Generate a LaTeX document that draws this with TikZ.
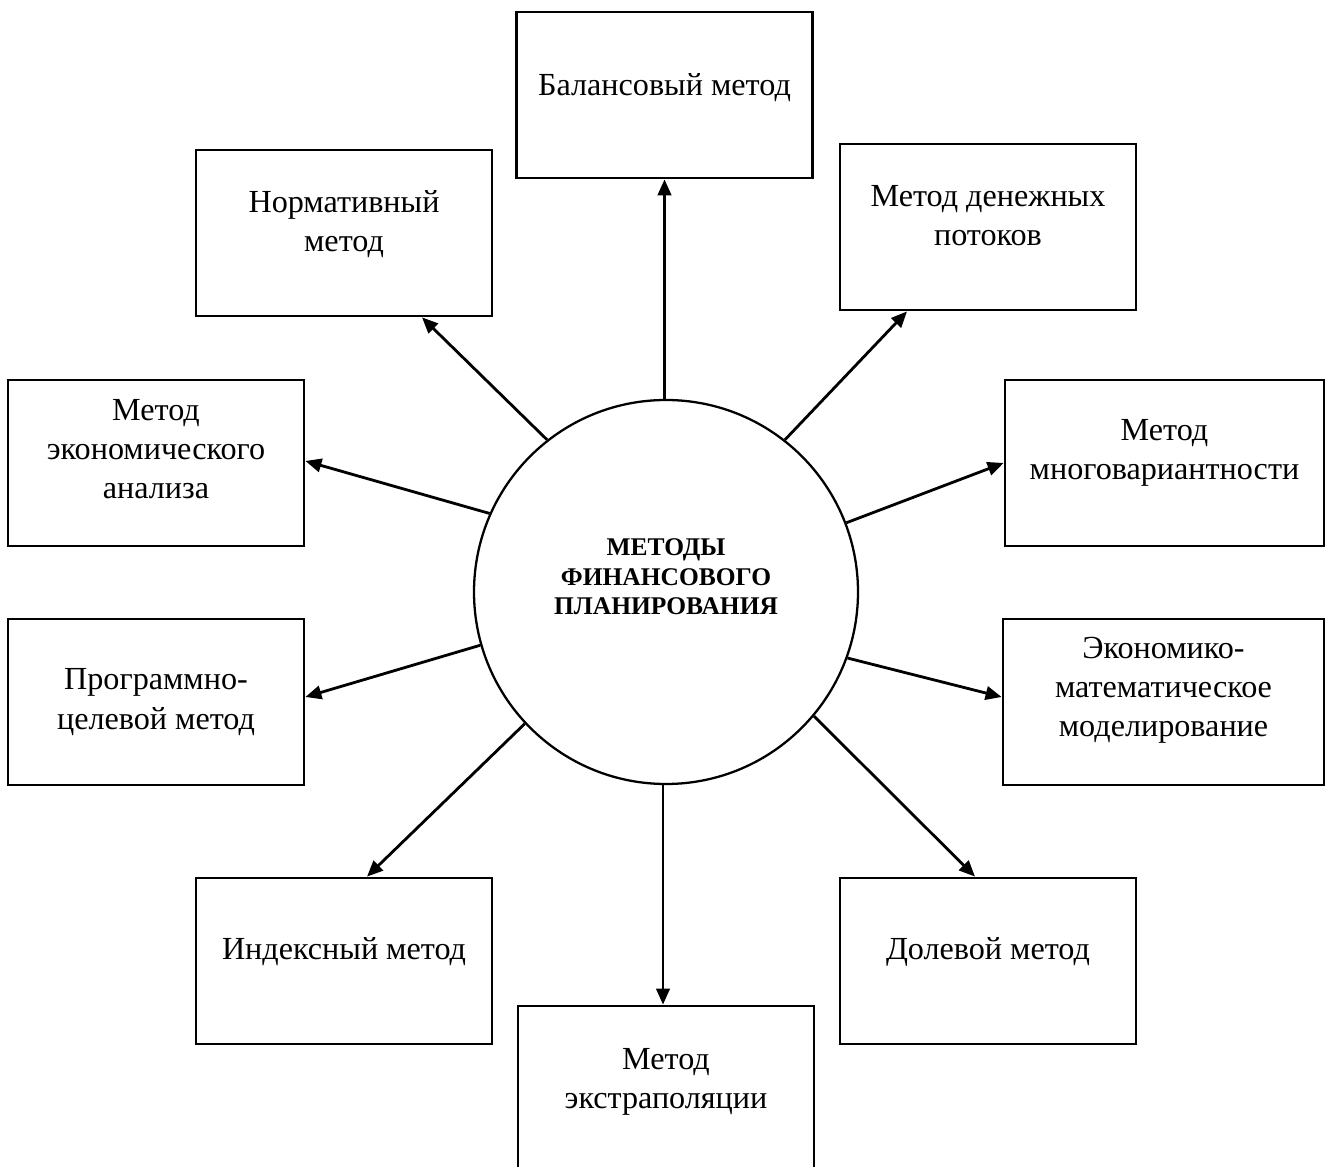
\documentclass[tikz,border=0pt]{standalone}
\usepackage{fontspec}
\setmainfont{Liberation Serif}
\usepackage{tikz}
\usetikzlibrary{arrows.meta,calc}

\tikzset{
    methbox/.style={draw, line width=1.6pt, minimum width=5.92cm, minimum height=3.32cm, inner sep=0pt},
    methtext/.style={align=center, font=\fontsize{18.3}{22.3}\selectfont, inner sep=0pt},
    core/.style={draw, circle, line width=1.3pt, minimum size=7.68cm, inner sep=0pt},
    spoke/.style={line width=1.6pt, -{Triangle[length=0.32cm, width=0.27cm]}},
}

\begin{document}
\begin{tikzpicture}
    %% Background
    \useasboundingbox (0,0) rectangle (26.62,23.32);

    %% Centre
    \node[core] (c) at (13.32,11.48) {};
    \node[align=center, font=\fontsize{14.5}{16.8}\selectfont\bfseries, inner sep=0pt]
        (c-t) at ([yshift=0.3cm]c.center) {МЕТОДЫ\\ФИНАНСОВОГО\\ПЛАНИРОВАНИЯ};

    %% Boxes
    \node[methbox] (bal) at (13.29,21.42) {};
    \node[methbox] (norm) at (6.88,18.66) {};
    \node[methbox] (den) at (19.76,18.78) {};
    \node[methbox] (anal) at (3.12,14.06) {};
    \node[methbox, minimum width=6.38cm] (mnog) at (23.29,14.06) {};
    \node[methbox] (prog) at (3.12,9.28) {};
    \node[methbox, minimum width=6.42cm] (ekmat) at (23.27,9.28) {};
    \node[methbox] (ind) at (6.88,4.10) {};
    \node[methbox] (dol) at (19.76,4.10) {};
    \node[methbox] (ext) at (13.32,1.54) {};

    %% Texts
    \node[methtext] (bal-t) at ([yshift=0.14cm]bal.center) {Балансовый метод};
    \node[methtext] (norm-t) at ([yshift=0.18cm]norm.center) {Нормативный\\метод};
    \node[methtext] (den-t) at ([yshift=0.22cm]den.center) {Метод денежных\\потоков};
    \node[methtext] (anal-t) at ([yshift=0.28cm]anal.center) {Метод\\экономического\\анализа};
    \node[methtext] (mnog-t) at ([yshift=0.2cm]mnog.center) {Метод\\многовариантности};
    \node[methtext] (prog-t) at (prog.center) {Программно-\\целевой метод};
    \node[methtext] (ekmat-t) at ([yshift=0.24cm]ekmat.center) {Экономико-\\математическое\\моделирование};
    \node[methtext] (ind-t) at ([yshift=0.18cm]ind.center) {Индексный метод};
    \node[methtext] (dol-t) at ([yshift=0.18cm]dol.center) {Долевой метод};
    \node[methtext] (ext-t) at ([yshift=0.14cm]ext.center) {Метод\\экстраполяции};

    %% Arrows
    \draw[spoke] (bal.south |- c.north) -- (bal.south);
    \draw[spoke] (c.128.4) -- ([xshift=1.56cm]norm.south);
    \draw[spoke] (c.52) -- ([xshift=-1.62cm]den.south);
    \draw[spoke] (c.156.1) -- ([yshift=0.04cm]anal.east);
    \draw[spoke] (c.21.2) -- (mnog.west);
    \draw[spoke] (c.196.3) -- ([yshift=0.1cm]prog.east);
    \draw[spoke] (c.340.7) -- ([yshift=0.1cm]ekmat.west);
    \draw[spoke] (c.223.8) -- ([xshift=0.46cm]ind.north);
    \draw[spoke] (c.320.8) -- ([xshift=-0.26cm]dol.north);
    \draw[spoke] ([xshift=-0.06cm]ext.north |- c.south) -- ([xshift=-0.06cm]ext.north);

\end{tikzpicture}
\end{document}
